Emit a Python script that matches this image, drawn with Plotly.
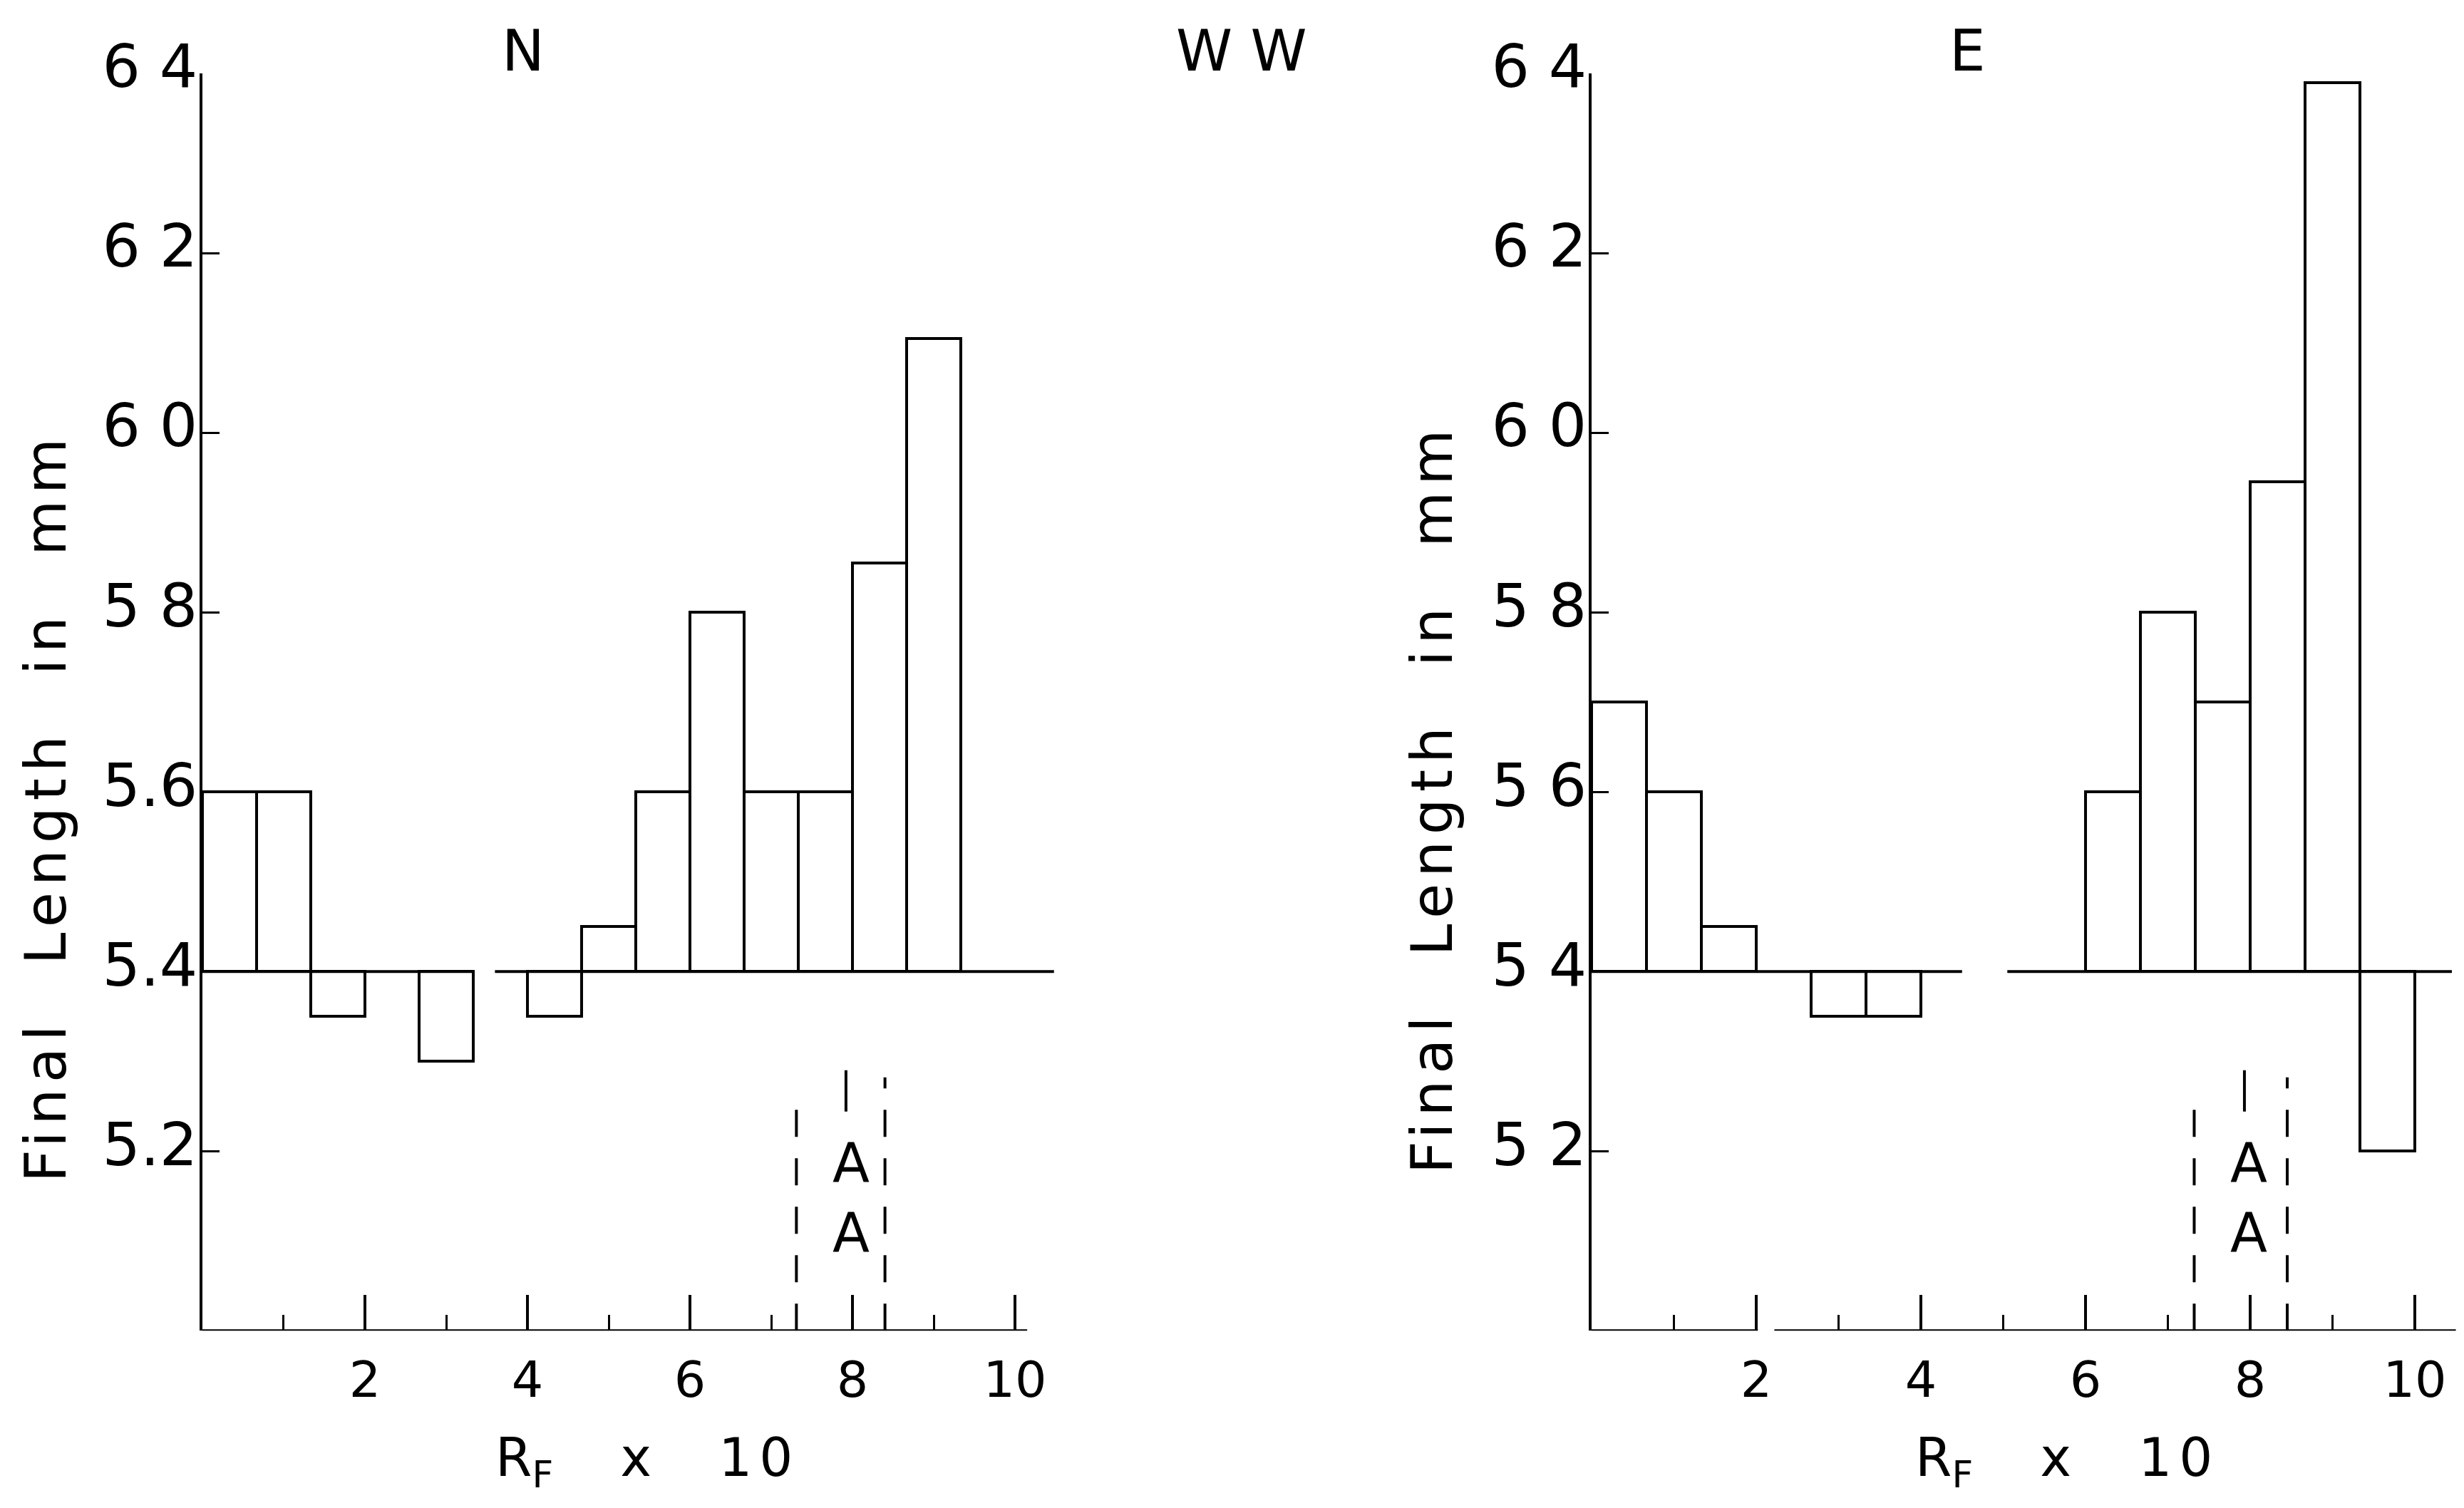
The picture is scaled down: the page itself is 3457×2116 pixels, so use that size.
import plotly.graph_objects as go

# ---- data ----
rf_centers = [0.33, 1.0, 1.67, 2.33, 3.0, 3.67, 4.33, 5.0, 5.67, 6.33, 7.0, 7.67, 8.33, 9.0, 9.67]
bin_width = 0.667
baseline = 5.4
length_N = [5.6, 5.6, 5.35, 5.4, 5.3, 5.4, 5.35, 5.45, 5.6, 5.8, 5.6, 5.6, 5.855, 6.105, 5.4]
length_E = [5.7, 5.6, 5.45, 5.4, 5.35, 5.35, 5.4, 5.4, 5.4, 5.6, 5.8, 5.7, 5.945, 6.39, 5.2]

y_tickvals = [5.2, 5.4, 5.6, 5.8, 6.0, 6.2, 6.4]
y_ticktext_N = ["5.2", "5.4", "5.6", "5 8", "6 0", "6 2", "6 4"]
y_ticktext_E = ["5 2", "5 4", "5 6", "5 8", "6 0", "6 2", "6 4"]
x_tickvals = [2, 4, 6, 8, 10]
x_ticktext = ["2", "4", "6", "8", "10"]

# baseline segments (x start, x end) drawn at 5.4
base_seg_N = [(0, 3.35), (3.6, 10.48)]
base_seg_E = [(0, 4.5), (5.05, 10.45)]
# bottom axis segments
axis_seg_N = [(0, 10.15)]
axis_seg_E = [(0, 2.02), (2.22, 10.5)]
# "A" marker region
dash_x_N = [7.31, 8.40]
dash_x_E = [7.32, 8.45]
dash_top = [5.265, 5.282]
mark_x_N = 7.92
mark_x_E = 7.93
mark_y = (5.244, 5.29)
A_x = 7.98
A_y = [5.187, 5.109]

FONT = "DejaVu Sans"
LW = 4
NB = "\u00a0"

fig = go.Figure()

def add_bars(vals, xa, ya):
    nz = [(c, v) for c, v in zip(rf_centers, vals) if abs(v - baseline) > 1e-9]
    fig.add_trace(go.Bar(
        x=[c for c, _ in nz], y=[v - baseline for _, v in nz], base=baseline,
        width=bin_width, marker=dict(color="white", line=dict(color="black", width=LW)),
        xaxis=xa, yaxis=ya, showlegend=False))

add_bars(length_N, "x", "y")
add_bars(length_E, "x2", "y2")

shapes = []
annotations = []

def panel_decor(xr, yr, base_seg, axis_seg, dash_x, mark_x):
    for a, b in base_seg:
        shapes.append(dict(type="line", xref=xr, yref=yr, x0=a, x1=b, y0=baseline, y1=baseline,
                           line=dict(color="black", width=LW)))
    for a, b in axis_seg:
        shapes.append(dict(type="line", xref=xr, yref=yr, x0=a, x1=b, y0=5.0, y1=5.0,
                           line=dict(color="black", width=LW)))
    for dx, top in zip(dash_x, dash_top):
        shapes.append(dict(type="line", xref=xr, yref=yr, x0=dx, x1=dx, y0=5.0, y1=top,
                           line=dict(color="black", width=4, dash="38px,30px")))
    shapes.append(dict(type="line", xref=xr, yref=yr, x0=mark_x, x1=mark_x, y0=mark_y[0], y1=mark_y[1],
                       line=dict(color="black", width=4)))
    for ay in A_y:
        annotations.append(dict(x=A_x, y=ay, xref=xr, yref=yr, text="A", showarrow=False,
                                font=dict(family=FONT, size=76, color="black")))

panel_decor("x", "y", base_seg_N, axis_seg_N, dash_x_N, mark_x_N)
panel_decor("x2", "y2", base_seg_E, axis_seg_E, dash_x_E, mark_x_E)

def txt(x, y, s, size, angle=0, family=FONT):
    annotations.append(dict(x=x, y=y, xref="paper", yref="paper", text=s, showarrow=False,
                            textangle=angle, font=dict(family=family, size=size, color="black"),
                            xanchor="center", yanchor="middle"))

def spaced(word, ls):
    return '<span style="letter-spacing:%dpx">%s</span>' % (ls, word)

gap = NB * 3
ytitle = gap.join(spaced(w, 9) for w in ["Final", "Length", "in", "mm"])
xtitle = "R<sub>F</sub>" + NB * 4 + "x" + NB * 4 + spaced("10", 10)

txt(0.2123, 0.9664, "N", 80)
txt(0.5039, 0.9664, "W W", 80)
txt(0.7984, 0.9664, "E", 80)
txt(0.2627, 0.031, xtitle, 74)
txt(0.8390, 0.031, xtitle, 74)
txt(0.0185, 0.4650, ytitle, 80, -90)
txt(0.5814, 0.4707, ytitle, 80, -90)

ydom = [0.1176, 0.9513]
xax = dict(range=[0, 10.5], showgrid=False, zeroline=False, showline=False, automargin=False,
           tickmode="array", tickvals=x_tickvals, ticktext=x_ticktext,
           ticks="inside", ticklen=50, tickwidth=LW, tickcolor="black",
           minor=dict(tickvals=[1, 3, 5, 7, 9], ticks="inside", ticklen=22, tickwidth=3, tickcolor="black"),
           tickfont=dict(family=FONT, size=70, color="black"), ticklabelstandoff=22)
yax = dict(range=[5.0, 6.4], showgrid=False, zeroline=False, showline=True, linecolor="black",
           linewidth=LW, tickmode="array", tickvals=y_tickvals, automargin=False,
           ticks="inside", ticklen=24, tickwidth=3, tickcolor="black",
           tickfont=dict(family=FONT, size=84, color="black"), ticklabelstandoff=-14,
           ticklabelshift=-10)

fig.update_layout(
    width=3457, height=2116, margin=dict(l=0, r=0, t=0, b=0, autoexpand=False),
    paper_bgcolor="white", plot_bgcolor="white", barmode="overlay", bargap=0,
    xaxis=dict(xax, domain=[0.08215, 0.42841], anchor="y"),
    yaxis=dict(yax, domain=ydom, anchor="x", ticktext=y_ticktext_N),
    xaxis2=dict(xax, domain=[0.64594, 0.99675], anchor="y2"),
    yaxis2=dict(yax, domain=ydom, anchor="x2", ticktext=y_ticktext_E),
    shapes=shapes, annotations=annotations,
)

fig.write_html("out.html")
